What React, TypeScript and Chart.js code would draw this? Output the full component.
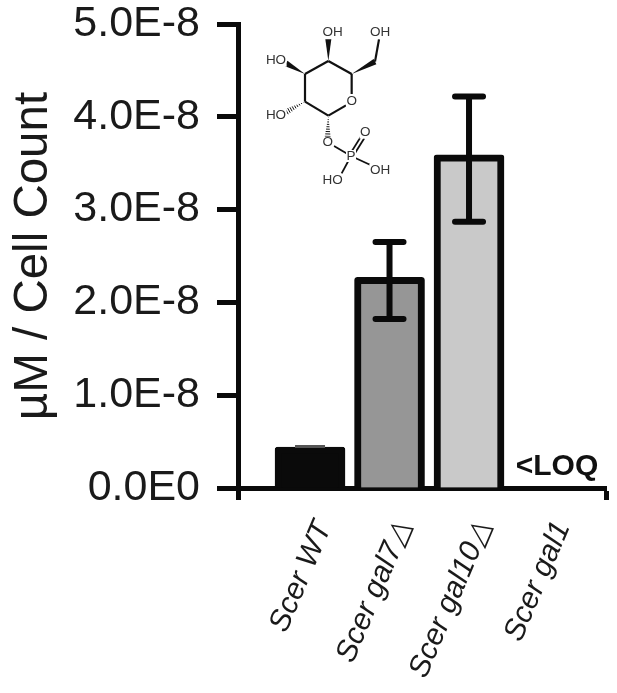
import React, { useEffect, useRef } from "react";
import { Chart, registerables } from "chart.js";

Chart.register(...registerables);

const categories = ["Scer WT", "Scer gal7△", "Scer gal10△", "Scer gal1"];
const categoryIndex = [0, 1, 2];
const means = [0.44e-8, 2.27e-8, 3.59e-8];
const errLow = [0.44e-8, 1.82e-8, 2.87e-8];
const errHigh = [0.455e-8, 2.65e-8, 4.22e-8];
const barColors = ["#0a0a0a", "#969696", "#c9c9c9"];
const yTickLabels = ["0.0E0", "1.0E-8", "2.0E-8", "3.0E-8", "4.0E-8", "5.0E-8"];
const FONT = '"Liberation Sans", Arial, sans-serif';

// Glucose-1-phosphate sketch, in a small local drawing space
const atoms: Record<string, [number, number]> = {
  c1: [265, 347], oa: [318, 316], ob: [335, 282], c5: [335, 222], c4: [265, 183], c3: [195, 222], c2: [195, 305],
  c6: [405, 185], o6: [417, 118], o4: [265, 118], o3: [138, 190], o2: [140, 335], o1: [263, 412],
  ox: [282, 438], p: [333, 468], po: [368, 412], poh: [398, 498], hop: [305, 520],
};
const plainBonds = [["c1", "oa"], ["ob", "c5"], ["c5", "c4"], ["c4", "c3"], ["c3", "c2"], ["c2", "c1"], ["c6", "o6"]];
const thinBonds = [["ox", "p"], ["p", "poh"], ["p", "hop"]];
const wedges = [["c4", "o4"], ["c3", "o3"], ["c5", "c6"]];
const hashes = [["c2", "o2"], ["c1", "o1"]];
const atomLabels: [string, number, number][] = [
  ["OH", 278, 98], ["OH", 420, 98], ["HO", 108, 182], ["HO", 108, 345], ["O", 335, 303],
  ["O", 263, 428], ["O", 376, 398], ["P", 333, 468], ["OH", 420, 510], ["HO", 278, 540],
];

const overlay = {
  id: "overlay",
  afterDatasetsDraw(chart: any) {
    const { ctx, scales } = chart;
    const { x, y } = scales;
    ctx.save();
    // error bars
    categoryIndex.forEach((c, i) => {
      const px = x.getPixelForValue(c);
      const hi = y.getPixelForValue(errHigh[i]);
      const lo = y.getPixelForValue(errLow[i]);
      const capHalf = i === 0 ? 15 : 14;
      ctx.strokeStyle = i === 0 ? "#555" : "#0a0a0a";
      ctx.lineCap = i === 0 ? "butt" : "round";
      ctx.lineWidth = i === 0 ? 1.5 : 6;
      ctx.beginPath();
      ctx.moveTo(px, hi);
      ctx.lineTo(px, lo);
      ctx.moveTo(px - capHalf, hi);
      ctx.lineTo(px + capHalf, hi);
      ctx.moveTo(px - capHalf, lo);
      ctx.lineTo(px + capHalf, lo);
      ctx.stroke();
    });
    ctx.lineCap = "butt";
    // <LOQ note, placed over the fourth category
    ctx.fillStyle = "#111";
    ctx.font = `bold 30px ${FONT}`;
    ctx.textAlign = "center";
    ctx.textBaseline = "middle";
    ctx.fillText("<LOQ", x.getPixelForValue(3) + 8.5, 467);

    // molecule
    const mx = (v: number) => 240 + v / 3;
    const my = (v: number) => v / 3;
    const pt = (k: string) => [mx(atoms[k][0]), my(atoms[k][1])];
    ctx.strokeStyle = "#111";
    ctx.fillStyle = "#111";
    ctx.lineWidth = 2.2;
    plainBonds.forEach(([a, b]) => {
      const [x1, y1] = pt(a);
      const [x2, y2] = pt(b);
      ctx.beginPath();
      ctx.moveTo(x1, y1);
      ctx.lineTo(x2, y2);
      ctx.stroke();
    });
    ctx.lineWidth = 1.8;
    thinBonds.forEach(([a, b]) => {
      const [x1, y1] = pt(a);
      const [x2, y2] = pt(b);
      ctx.beginPath();
      ctx.moveTo(x1, y1);
      ctx.lineTo(x2, y2);
      ctx.stroke();
    });
    // P=O double bond
    const [px, py] = pt("p");
    const [ox, oy] = pt("po");
    [-1.6, 1.6].forEach((d) => {
      ctx.beginPath();
      ctx.moveTo(px + d, py + d * 0.6);
      ctx.lineTo(ox + d, oy + d * 0.6);
      ctx.stroke();
    });
    wedges.forEach(([a, b]) => {
      const [x1, y1] = pt(a);
      const [x2, y2] = pt(b);
      const len = Math.hypot(x2 - x1, y2 - y1);
      const nx = (-(y2 - y1) / len) * 3;
      const ny = ((x2 - x1) / len) * 3;
      ctx.beginPath();
      ctx.moveTo(x1, y1);
      ctx.lineTo(x2 + nx, y2 + ny);
      ctx.lineTo(x2 - nx, y2 - ny);
      ctx.closePath();
      ctx.fill();
    });
    ctx.lineWidth = 1;
    hashes.forEach(([a, b]) => {
      const [x1, y1] = pt(a);
      const [x2, y2] = pt(b);
      const len = Math.hypot(x2 - x1, y2 - y1);
      const ux = (x2 - x1) / len;
      const uy = (y2 - y1) / len;
      for (let s = 1.5; s < len; s += 2.4) {
        const w = (s / len) * 3;
        const cx = x1 + ux * s;
        const cy = y1 + uy * s;
        ctx.beginPath();
        ctx.moveTo(cx - uy * w, cy + ux * w);
        ctx.lineTo(cx + uy * w, cy - ux * w);
        ctx.stroke();
      }
    });
    ctx.font = `13.5px ${FONT}`;
    atomLabels.forEach(([t, a, b]) => {
      const w = ctx.measureText(t).width;
      ctx.fillStyle = "#fff";
      ctx.fillRect(mx(a) - w / 2 - 0.5, my(b) - 6, w + 1, 12);
      ctx.fillStyle = "#333";
      ctx.fillText(t, mx(a), my(b));
    });
    ctx.restore();
  },
};

export default function App() {
  const ref = useRef<HTMLCanvasElement>(null);
  useEffect(() => {
    document.body.style.margin = "0";
    const chart = new Chart(ref.current!, {
      type: "bar",
      data: {
        datasets: [
          {
            data: categoryIndex.map((c, i) => ({ x: c, y: means[i] })),
            backgroundColor: barColors,
            borderColor: "#0a0a0a",
            borderWidth: 7,
            borderSkipped: "bottom",
            borderRadius: 3,
            barThickness: 70,
          },
        ],
      },
      options: {
        responsive: false,
        animation: false,
        layout: { padding: { top: 24, right: 11, left: 0, bottom: 0 } },
        plugins: { legend: { display: false }, tooltip: { enabled: false } },
        scales: {
          x: {
            type: "linear",
            z: 1,
            offset: false,
            min: -0.906,
            max: 3.723,
            afterBuildTicks(scale: any) {
              scale.ticks = [-0.906, 0, 1, 2, 3, 3.723].map((value) => ({ value }));
            },
            afterFit(scale: any) {
              scale.height = 205;
              scale.paddingLeft = 0;
              scale.paddingRight = 0;
            },
            border: { color: "#0a0a0a", width: 5 },
            grid: {
              offset: false,
              drawOnChartArea: false,
              drawTicks: true,
              tickLength: 12,
              tickWidth: 5,
              tickColor: (c: any) => (Number.isInteger(c.tick?.value) ? "rgba(0,0,0,0)" : "#0a0a0a"),
            },
            ticks: {
              autoSkip: false,
              minRotation: 67,
              maxRotation: 67,
              padding: 16,
              labelOffset: 14,
              color: "#1a1a1a",
              font: { family: FONT, size: 30, style: "italic" },
              callback: (v: any) => (Number.isInteger(v) ? categories[v] : ""),
            },
          },
          y: {
            min: 0,
            max: 5e-8,
            afterFit(scale: any) {
              scale.width = 238;
              scale.paddingTop = 0;
              scale.paddingBottom = 0;
            },
            border: { color: "#0a0a0a", width: 5 },
            title: {
              display: true,
              text: "µM / Cell Count",
              color: "#1a1a1a",
              font: { family: FONT, size: 47.5 },
              padding: { top: 5, bottom: 0 },
            },
            grid: {
              drawOnChartArea: false,
              drawTicks: true,
              tickLength: 21,
              tickWidth: 5,
              tickColor: "#0a0a0a",
            },
            ticks: {
              stepSize: 1e-8,
              padding: 17,
              color: "#1a1a1a",
              font: { family: FONT, size: 43 },
              callback: (v: any) => yTickLabels[Math.round(v / 1e-8)],
            },
          },
        },
      },
      plugins: [overlay],
    } as any);
    return () => chart.destroy();
  }, []);
  return <canvas ref={ref} width={617} height={693} style={{ display: "block", filter: "blur(0.5px)" }} />;
}
